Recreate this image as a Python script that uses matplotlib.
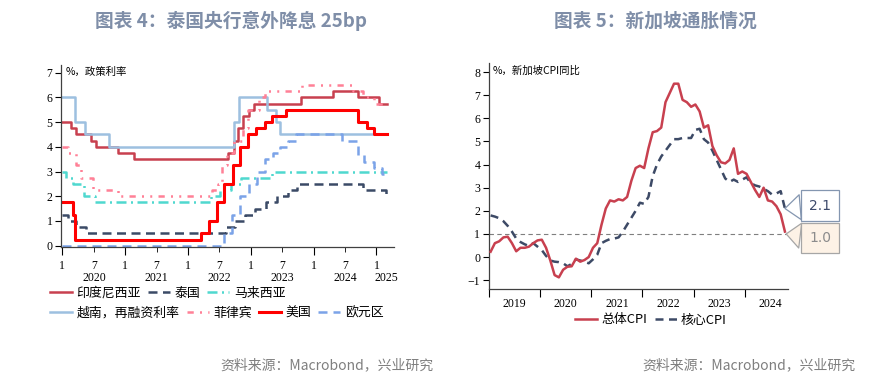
import matplotlib
matplotlib.use("Agg")
import matplotlib.pyplot as plt
import matplotlib.transforms as mtransforms
import pandas as pd

plt.rcParams['font.family'] = ['Liberation Serif', 'Noto Sans CJK SC', 'DejaVu Sans']
CJK = ['Noto Sans CJK SC', 'DejaVu Sans']

# ---- 图表4: 政策利率 (change dates and levels) ----
end_date = '2025-02-28'
idn_dates = ['2020-01-01', '2020-02-20', '2020-03-19', '2020-06-18', '2020-07-16', '2020-11-19',
             '2021-02-18', '2022-08-23', '2022-09-22', '2022-10-20', '2022-11-17', '2022-12-22',
             '2023-01-19', '2023-10-19', '2024-04-24', '2024-09-18', '2025-01-15']
idn_rates = [5.0, 4.75, 4.5, 4.25, 4.0, 3.75, 3.5, 3.75, 4.25, 4.75, 5.25, 5.5, 5.75, 6.0, 6.25, 6.0, 5.75]
tha_dates = ['2020-01-01', '2020-02-05', '2020-03-20', '2020-05-20', '2022-08-10', '2022-09-28',
             '2022-11-30', '2023-01-25', '2023-03-29', '2023-05-31', '2023-08-02', '2023-09-27',
             '2024-10-16', '2025-02-26']
tha_rates = [1.25, 1.0, 0.75, 0.5, 0.75, 1.0, 1.25, 1.5, 1.75, 2.0, 2.25, 2.5, 2.25, 2.0]
mys_dates = ['2020-01-01', '2020-01-22', '2020-03-03', '2020-05-05', '2020-07-07', '2022-05-11',
             '2022-07-06', '2022-09-08', '2022-11-03', '2023-05-03']
mys_rates = [3.0, 2.75, 2.5, 2.0, 1.75, 2.0, 2.25, 2.5, 2.75, 3.0]
vnm_dates = ['2020-01-01', '2020-03-17', '2020-05-13', '2020-10-01', '2022-09-23', '2022-10-25',
             '2023-04-03', '2023-05-25', '2023-06-19']
vnm_rates = [6.0, 5.0, 4.5, 4.0, 5.0, 6.0, 5.5, 5.0, 4.5]
phl_dates = ['2020-01-01', '2020-02-06', '2020-03-19', '2020-04-16', '2020-06-25', '2020-11-19',
             '2022-05-19', '2022-06-23', '2022-07-14', '2022-08-18', '2022-09-22', '2022-11-17',
             '2022-12-15', '2023-02-16', '2023-03-23', '2023-10-26', '2024-08-15', '2024-10-16',
             '2024-12-19']
phl_rates = [4.0, 3.75, 3.25, 2.75, 2.25, 2.0, 2.25, 2.5, 3.25, 3.75, 4.25, 4.75, 5.5, 6.0, 6.25,
             6.5, 6.25, 6.0, 5.75]
usa_dates = ['2020-01-01', '2020-03-03', '2020-03-15', '2022-03-16', '2022-05-04', '2022-06-15',
             '2022-07-27', '2022-09-21', '2022-11-02', '2022-12-14', '2023-02-01', '2023-03-22',
             '2023-05-03', '2023-07-26', '2024-09-18', '2024-11-07', '2024-12-18']
usa_rates = [1.75, 1.25, 0.25, 0.5, 1.0, 1.75, 2.5, 3.25, 4.0, 4.5, 4.75, 5.0, 5.25, 5.5, 5.0, 4.75, 4.5]
eur_dates = ['2020-01-01', '2022-07-27', '2022-09-14', '2022-11-02', '2022-12-21', '2023-02-08',
             '2023-03-22', '2023-05-10', '2023-06-21', '2023-08-02', '2023-09-20', '2024-06-12',
             '2024-09-18', '2024-10-23', '2024-12-18', '2025-02-05']
eur_rates = [0.0, 0.5, 1.25, 2.0, 2.5, 3.0, 3.5, 3.75, 4.0, 4.25, 4.5, 4.25, 3.65, 3.4, 3.15, 2.9]

# ---- 图表5: 新加坡CPI同比, 2019-01 起月度 ----
cpi_headline = [0.23, 0.6, 0.68, 0.85, 0.88, 0.6, 0.25, 0.4, 0.4, 0.45, 0.6, 0.72,
                0.75, 0.4, -0.15, -0.78, -0.88, -0.55, -0.42, -0.4, -0.07, -0.2, -0.13, 0.0,
                0.4, 0.6, 1.4, 2.1, 2.45, 2.4, 2.5, 2.45, 2.6, 3.3, 3.85, 3.95,
                3.85, 4.7, 5.4, 5.45, 5.6, 6.7, 7.1, 7.5, 7.5, 6.8, 6.7, 6.5,
                6.6, 6.3, 5.6, 5.7, 4.8, 4.4, 4.1, 4.05, 4.2, 4.7, 3.6, 3.7,
                3.6, 3.25, 2.9, 2.6, 3.0, 2.45, 2.4, 2.2, 1.85, 1.1]
cpi_core = [1.8, 1.75, 1.68, 1.55, 1.35, 1.1, 0.8, 0.65, 0.55, 0.48, 0.6, 0.45,
            0.3, 0.05, -0.15, -0.2, -0.22, -0.27, -0.4, -0.3, -0.1, -0.15, -0.2, -0.27,
            -0.1, 0.1, 0.6, 0.7, 0.78, 0.8, 0.85, 1.1, 1.4, 1.7, 2.0, 2.35,
            2.3, 2.6, 3.5, 4.0, 4.35, 4.6, 4.85, 5.1, 5.1, 5.15, 5.15, 5.15,
            5.5, 5.55, 5.1, 4.95, 4.6, 4.2, 3.8, 3.4, 3.25, 3.35, 3.25, 3.35,
            3.45, 3.2, 3.1, 3.05, 2.95, 2.85, 2.7, 2.75, 2.85, 2.1]
years_r = ['2019', '2020', '2021', '2022', '2023', '2024']


def to_m(s):
    d = pd.to_datetime(s)
    return (d.year - 2020) * 12 + d.month - 1 + (d.day - 1) / d.days_in_month


def step_xy(dates, rates):
    xs = [to_m(d) for d in dates] + [to_m(end_date)]
    ys = list(rates) + [rates[-1]]
    return xs, ys


fig = plt.figure(figsize=(8.9, 3.83), dpi=100)
fig.patch.set_facecolor('white')

# ================= left chart =================
ax = fig.add_axes([0.0682, 0.3543, 0.3748, 0.476])
series = [
    ('印度尼西亚', idn_dates, idn_rates, '#c8404f', '-', 1.8),
    ('泰国', tha_dates, tha_rates, '#3b4a66', (0, (3.6, 2.2)), 1.8),
    ('马来西亚', mys_dates, mys_rates, '#4fd8cf', (0, (4, 1.8, 0.8, 1.8)), 1.8),
    ('越南，再融资利率', vnm_dates, vnm_rates, '#9dc0e0', '-', 1.8),
    ('菲律宾', phl_dates, phl_rates, '#ff8096', (0, (2.5, 2.5, 0.8, 2.5, 0.8, 2.5)), 1.8),
    ('美国', usa_dates, usa_rates, '#ff0000', '-', 2.2),
    ('欧元区', eur_dates, eur_rates, '#7ba3e8', (0, (3.6, 2.4)), 1.8),
]
handles = []
for name, d, r, c, ls, lw in series:
    xs, ys = step_xy(d, r)
    h, = ax.step(xs, ys, where='post', color=c, ls=ls, lw=lw, label=name)
    handles.append(h)

ax.set_xlim(-0.3, 63.4)
ax.set_ylim(-0.065, 7.31)
ax.set_yticks(range(0, 8))
ax.set_xticks(range(0, 61, 12))
ax.set_xticklabels(['1'] * 6)
ax.set_xticks(range(6, 61, 12), minor=True)
ax.set_xticklabels(['7'] * 5, minor=True)
ax.tick_params(axis='x', which='major', length=6, direction='out', pad=3, labelsize=8.5)
ax.tick_params(axis='x', which='minor', length=3.5, direction='out', pad=5.5, labelsize=8.5)
ax.tick_params(axis='y', length=4, direction='out', pad=2, labelsize=8.5)
for s in ['top', 'right']:
    ax.spines[s].set_visible(False)
for s in ['left', 'bottom']:
    ax.spines[s].set_color('#404040')
    ax.spines[s].set_linewidth(0.9)

trans = mtransforms.blended_transform_factory(ax.transData, ax.transAxes)
for yr, xm in zip(['2020', '2021', '2022', '2023', '2024', '2025'], [6.2, 18, 30, 42, 54, 61.9]):
    ax.text(xm, -0.17, yr, transform=trans, ha='center', va='center', fontsize=8.5)
ax.text(0.6, 7.03, '%，政策利率', family=CJK, fontsize=7.5, va='center', ha='left')

leg_kw = dict(frameon=False, prop={'family': CJK, 'size': 9.3}, handlelength=1.7,
              handletextpad=0.35, columnspacing=0.55, borderpad=0, borderaxespad=0)
fig.legend(handles=handles[:3], loc='center left', ncol=3,
           bbox_to_anchor=(50 / 890, 1 - 293 / 383), **leg_kw)
fig.legend(handles=handles[3:], loc='center left', ncol=4,
           bbox_to_anchor=(50 / 890, 1 - 313 / 383), **leg_kw)

# ================= right chart =================
ax2 = fig.add_axes([0.549, 0.2462, 0.3363, 0.589])
xr = [i + 0.4 for i in range(len(cpi_headline))]
ax2.axhline(1.0, color='#7f7f7f', lw=0.8, ls=(0, (4, 3)), zorder=1)
h1, = ax2.plot(xr, cpi_headline, color='#c8404f', lw=1.8, label='总体CPI', zorder=3)
h2, = ax2.plot(xr, cpi_core, color='#3d4a66', lw=1.8, ls=(0, (3.2, 2.2)), label='核心CPI', zorder=2)
ax2.set_xlim(-0.07, 70.1)
ax2.set_ylim(-1.37, 8.39)
ax2.set_yticks(range(-1, 9))
ax2.set_xticks(range(0, 61, 12))
ax2.set_xticklabels([])
ax2.set_xticks(range(6, 72, 12), minor=True)
ax2.set_xticklabels(years_r, minor=True)
ax2.tick_params(axis='x', which='major', length=5.5, direction='out')
ax2.tick_params(axis='x', which='minor', length=0, pad=7, labelsize=8.5)
ax2.tick_params(axis='y', length=4, direction='out', pad=2, labelsize=8.5)
for s in ['top', 'right']:
    ax2.spines[s].set_visible(False)
for s in ['left', 'bottom']:
    ax2.spines[s].set_color('#404040')
    ax2.spines[s].set_linewidth(0.9)
ax2.text(0.8, 8.05, '%，新加坡CPI同比', family=CJK, fontsize=7.5, va='center', ha='left')

ax2.annotate('2.1', xy=(xr[-1], cpi_core[-1]), xytext=(820, 383 - 205.5),
             textcoords='figure pixels', ha='center', va='center', fontsize=10,
             family='DejaVu Sans', color='#3d4a6b', annotation_clip=False,
             bbox=dict(boxstyle='square,pad=0.6', fc='white', ec='#8496b0', lw=0.9),
             arrowprops=dict(arrowstyle='wedge,tail_width=1.8,shrink_factor=0.5',
                             fc='white', ec='#8496b0', lw=0.9, shrinkA=0, shrinkB=0))
ax2.annotate('1.0', xy=(xr[-1] + 0.3, 1.0), xytext=(820, 383 - 238),
             textcoords='figure pixels', ha='center', va='center', fontsize=10,
             family='DejaVu Sans', color='#8c8c8c', annotation_clip=False,
             bbox=dict(boxstyle='square,pad=0.6', fc='#fdf2e6', ec='#a6a6a6', lw=0.9),
             arrowprops=dict(arrowstyle='wedge,tail_width=1.8,shrink_factor=0.5',
                             fc='#fdf2e6', ec='#a6a6a6', lw=0.9, shrinkA=0, shrinkB=0))

fig.legend(handles=[h1, h2], loc='center', ncol=2, bbox_to_anchor=(651 / 890, 1 - 320 / 383),
           frameon=False, prop={'family': CJK, 'size': 9.3}, handlelength=1.7,
           handletextpad=0.35, columnspacing=0.55, borderpad=0, borderaxespad=0)

# ================= titles & sources =================
title_color = '#7f8ea8'
fig.text(231 / 890, 1 - 21 / 383, '图表 4：泰国央行意外降息 25bp', family=CJK, fontsize=13.5,
         fontweight='bold', color=title_color, ha='center', va='center')
fig.text(655 / 890, 1 - 21 / 383, '图表 5：新加坡通胀情况', family=CJK, fontsize=13.5,
         fontweight='bold', color=title_color, ha='center', va='center')
fig.text(433 / 890, 1 - 365 / 383, '资料来源：Macrobond，兴业研究', family=CJK, fontsize=10,
         color='#7f7f7f', ha='right', va='center')
fig.text(855 / 890, 1 - 365 / 383, '资料来源：Macrobond，兴业研究', family=CJK, fontsize=10,
         color='#7f7f7f', ha='right', va='center')

fig.savefig('out.png', dpi=100, facecolor='white')
